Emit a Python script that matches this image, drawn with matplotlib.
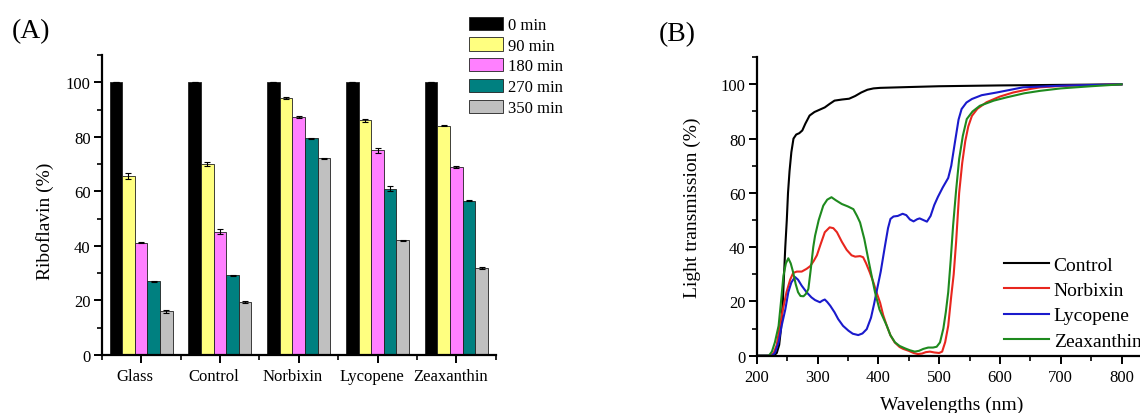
import matplotlib
matplotlib.use("Agg")
import matplotlib.pyplot as plt
import numpy as np
from matplotlib.ticker import MultipleLocator, FixedLocator
from matplotlib.transforms import ScaledTranslation

plt.rcParams['font.family'] = ['Liberation Serif', 'DejaVu Serif']

# ---------------- (A) riboflavin retention ----------------
samples = ['Glass', 'Control', 'Norbixin', 'Lycopene', 'Zeaxanthin']
times = ['0 min', '90 min', '180 min', '270 min', '350 min']
riboflavin = {
    '0 min':   [100.0, 100.0, 100.0, 100.0, 100.0],
    '90 min':  [65.7, 70.0, 94.2, 86.0, 84.1],
    '180 min': [41.2, 45.2, 87.2, 75.0, 69.0],
    '270 min': [27.0, 29.2, 79.5, 61.0, 56.5],
    '350 min': [16.0, 19.4, 72.2, 42.0, 31.9],
}
riboflavin_err = {
    '0 min':   [0.0, 0.0, 0.0, 0.0, 0.0],
    '90 min':  [1.0, 0.8, 0.5, 0.5, 0.3],
    '180 min': [0.3, 1.0, 0.3, 1.0, 0.3],
    '270 min': [0.3, 0.3, 0.2, 1.0, 0.2],
    '350 min': [0.5, 0.3, 0.2, 0.2, 0.2],
}
bar_colors = ['#000000', '#FFFF80', '#FF80FF', '#008080', '#C0C0C0']

# ---------------- (B) light transmission spectra ----------------
wl_control = [200, 228, 233, 237, 240, 243, 245, 247, 249.5, 251.5, 254, 257, 260.5,
              265, 270, 275, 280, 287, 295, 305, 312, 320, 328, 340, 352, 362, 372,
              382, 392, 403, 450, 500, 600, 700, 800]
tr_control = [0, 0, 1, 4, 10, 20, 30, 40, 50, 60, 68, 75, 80,
              81.5, 82, 83, 85.5, 88.5, 89.8, 90.8, 91.5, 92.8, 94, 94.4, 94.7, 95.7, 97,
              98, 98.5, 98.7, 99, 99.3, 99.6, 99.8, 100]

wl_norbixin = [200, 222, 228, 233, 238, 244, 249, 255, 260, 266, 274, 282, 288, 294, 299,
               305, 312, 320, 326, 332, 340, 348, 356, 362, 370, 375, 380, 386, 392, 397,
               403, 408, 414, 420, 427, 435, 441, 450, 458, 465, 472, 478, 485, 492, 500,
               505, 510, 515, 520, 524, 528, 533, 538, 543, 548, 554, 563, 578, 600, 622,
               650, 666, 700, 750, 800]
tr_norbixin = [0, 0, 1, 4, 11, 18, 23.4, 28, 30.5, 31, 31, 32, 33, 35, 37,
               41, 45.5, 47.3, 47, 45.5, 42, 39, 37, 36.5, 36.7, 36.3, 34, 30.7, 27, 23.4,
               19.5, 15, 11, 7.5, 4.9, 3.2, 2.5, 1.8, 1, 0.6, 0.8, 1.3, 1.5, 1.2, 1,
               1.5, 5, 11, 22, 30, 42, 60, 71, 79, 84.5, 88.4, 91, 93.4, 95.5, 97,
               98.3, 98.9, 99.4, 99.7, 100]

wl_lycopene = [200, 225, 230, 236, 241, 247, 252, 257, 263, 268, 274, 282, 290, 296, 304,
               308, 312, 316, 321, 328, 334, 342, 351, 358, 367, 374, 381, 388, 393, 397,
               404, 411, 416, 420, 425, 432, 440, 446, 452, 458, 464, 468, 474, 480, 486,
               492, 498, 506, 515, 520, 526, 532, 537, 545, 554, 570, 595, 638, 700, 800]
tr_lycopene = [0, 0, 1, 5, 11, 17, 23.4, 27, 29, 28, 25.8, 23.4, 21.5, 20.5, 19.7,
               20.3, 20.7, 19.8, 18.4, 16, 13.5, 11, 9.2, 8.1, 7.6, 8.2, 9.8, 14, 19, 23.4,
               31, 40.5, 47, 50.4, 51.3, 51.5, 52.3, 51.8, 50.2, 49.5, 50.3, 50.6, 50, 49.4, 51.5,
               55.5, 58.5, 62, 65.5, 70, 78.6, 87, 90.9, 93.3, 94.6, 96, 97, 98.9, 99.5, 100]

wl_zeaxanthin = [200, 220, 225, 230, 236, 240, 244, 248, 252, 256, 260, 264, 268, 272, 277,
                 281, 285, 289, 293, 296, 302, 309.5, 316, 323, 330, 340, 350, 359, 365, 370,
                 377, 383.5, 389, 394.6, 402, 408, 414, 420, 427.5, 435, 444, 452, 460, 467,
                 474, 482, 490, 496, 501.5, 507, 511, 515, 519, 523, 528, 533, 539, 545.5,
                 555, 567, 590, 611, 640, 666, 700, 750, 800]
tr_zeaxanthin = [0, 0, 1.5, 5, 11, 20, 29.5, 34, 35.9, 34, 30.7, 26.5, 23.4, 22, 21.9,
                 22.8, 24.6, 32, 40, 44.2, 50, 55.3, 57.5, 58.4, 57.3, 55.9, 55, 54, 51.5, 49.1,
                 43, 35.6, 29.5, 23.4, 17, 14, 11, 7.5, 4.9, 3.6, 2.7, 2, 1.5, 1.8,
                 2.5, 3, 3, 3.3, 4.9, 10, 16, 23.4, 35, 47.9, 61, 72.5, 81, 87.2,
                 90, 92.1, 94, 95.2, 96.7, 97.6, 98.5, 99.3, 100]

spectra = [
    ('Control', wl_control, tr_control, '#000000'),
    ('Norbixin', wl_norbixin, tr_norbixin, '#E8261E'),
    ('Lycopene', wl_lycopene, tr_lycopene, '#1A1ACC'),
    ('Zeaxanthin', wl_zeaxanthin, tr_zeaxanthin, '#1E8A1E'),
]

W, H = 1140, 414
fig = plt.figure(figsize=(W / 100, H / 100), dpi=100)


def px_axes(x0, y_bottom, x1, y_top):
    return fig.add_axes([x0 / W, 1 - y_bottom / H, (x1 - x0) / W, (y_bottom - y_top) / H])


def style_axes(ax):
    for side in ('top', 'right'):
        ax.spines[side].set_visible(False)
    for side in ('left', 'bottom'):
        ax.spines[side].set_linewidth(1.6)
    ax.tick_params(which='major', direction='out', length=5.5, width=1.4,
                   labelsize=12, pad=2.5)
    ax.tick_params(which='minor', direction='out', length=3.5, width=1.2)


# ---- panel A ----
axA = px_axes(101.7, 356.0, 495.7, 56.0)
x = np.arange(1, len(samples) + 1)
bw = 0.16
for i, t in enumerate(times):
    offs = (i - 2) * bw
    axA.bar(x + offs, riboflavin[t], width=bw, color=bar_colors[i],
            edgecolor='#202020', linewidth=0.6, label=t,
            yerr=riboflavin_err[t], error_kw=dict(ecolor='black', elinewidth=0.8,
                                                  capsize=2.5, capthick=0.8))
axA.set_xlim(0.5, 5.5)
axA.set_ylim(0, 110)
axA.yaxis.set_major_locator(FixedLocator([0, 20, 40, 60, 80, 100]))
axA.yaxis.set_minor_locator(MultipleLocator(10))
axA.set_xticks(x)
axA.set_xticklabels(samples)
axA.xaxis.set_minor_locator(FixedLocator(np.arange(0.5, 5.6, 1.0)))
style_axes(axA)
axA.tick_params(axis='x', which='major', pad=4)
# category names sit slightly left of their ticks
shift = ScaledTranslation(-6 / 100, 0, fig.dpi_scale_trans)
for lab in axA.get_xticklabels():
    lab.set_transform(lab.get_transform() + shift)
axA.set_ylabel('Riboflavin (%)', fontsize=14)
axA.yaxis.set_label_coords(-0.144, 0.45)
axA.yaxis.label.set_verticalalignment('center')

axA.legend(loc='upper left', bbox_to_anchor=(469.3 / W, 1 - 17.5 / H),
           bbox_transform=fig.transFigure, frameon=False, fontsize=12,
           handlelength=2.0, handleheight=0.85, handletextpad=0.35,
           labelspacing=0.26, borderpad=0, borderaxespad=0)

fig.text(31 / W, 1 - 32 / H, '(A)', fontsize=20, ha='center', va='center')

# ---- panel B ----
x0B, x1B = 756.7, 756.7 + 650 * 0.608
axB = px_axes(x0B, 356.7, x1B, 58.2)
for name, wl, tr, c in spectra:
    axB.plot(wl, tr, color=c, linewidth=1.5, label=name)
axB.set_xlim(200, 850)
axB.set_ylim(0, 110)
axB.xaxis.set_major_locator(FixedLocator([200, 300, 400, 500, 600, 700, 800]))
axB.xaxis.set_minor_locator(MultipleLocator(50))
axB.yaxis.set_major_locator(FixedLocator([0, 20, 40, 60, 80, 100]))
axB.yaxis.set_minor_locator(MultipleLocator(10))
style_axes(axB)
axB.tick_params(axis='x', which='major', pad=4)
axB.set_ylabel('Light transmission (%)', fontsize=14)
axB.yaxis.set_label_coords(-0.164, 0.5)
axB.yaxis.label.set_verticalalignment('center')
axB.set_xlabel('Wavelengths (nm)', fontsize=14)
axB.xaxis.set_label_coords(0.494, -0.162)
axB.xaxis.label.set_verticalalignment('center')

axB.legend(loc='upper left', bbox_to_anchor=(1004 / W, 1 - 257 / H),
           bbox_transform=fig.transFigure, frameon=False, fontsize=14,
           handlelength=2.3, handletextpad=0.25, labelspacing=0.4,
           borderpad=0, borderaxespad=0)

fig.text(677 / W, 1 - 35 / H, '(B)', fontsize=20, ha='center', va='center')

fig.savefig('out.png', dpi=100)
